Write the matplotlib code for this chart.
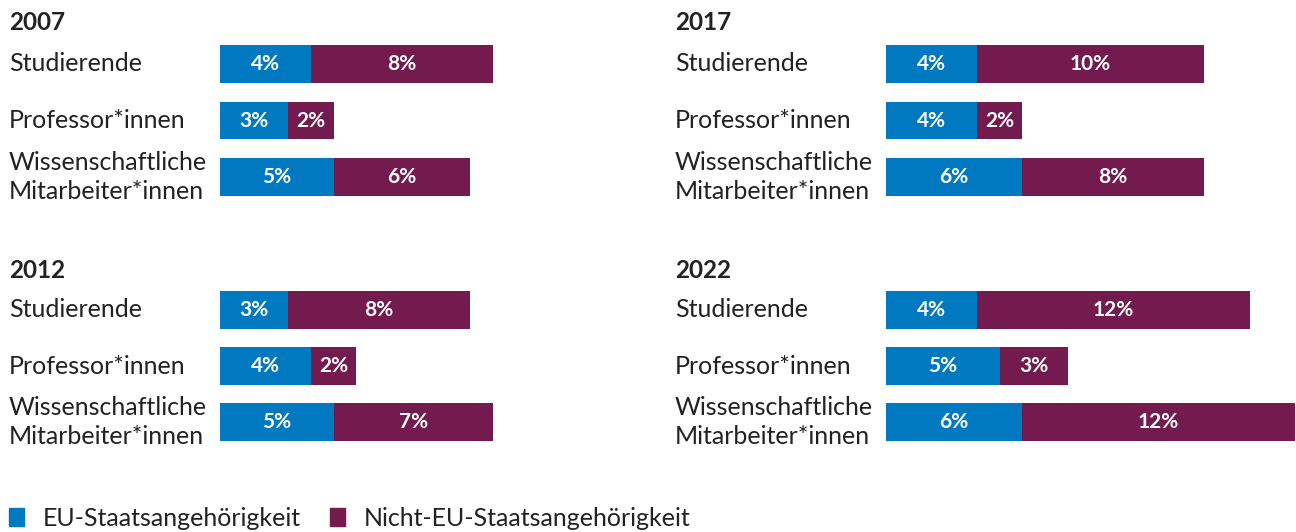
"""
Anteil ausländischer Studierender und Beschäftigter nach Staatsangehörigkeit,
2007 / 2012 / 2017 / 2022 - gestapelte Balken.
Output: out.png
"""
import matplotlib
matplotlib.use('Agg')
import matplotlib.pyplot as plt
import matplotlib.patches as mpatches
from matplotlib.transforms import blended_transform_factory

plt.rcParams['font.family'] = ['Lato', 'DejaVu Sans']

# ── Daten ──
years = ['2007', '2012', '2017', '2022']
groups = ['Studierende', 'Professor*innen', 'Wissenschaftliche\nMitarbeiter*innen']
eu = {
    '2007': [4, 3, 5],
    '2012': [3, 4, 5],
    '2017': [4, 4, 6],
    '2022': [4, 5, 6],
}
non_eu = {
    '2007': [8, 2, 6],
    '2012': [8, 2, 7],
    '2017': [10, 2, 8],
    '2022': [12, 3, 12],
}
legend_labels = ['EU-Staatsangehörigkeit', 'Nicht-EU-Staatsangehörigkeit']

BLUE = '#0079c1'
PURPLE = '#731a4e'
TEXT = '#222222'

W, H = 1296, 532
fig = plt.figure(figsize=(W / 100, H / 100), dpi=100)

PX_PER_PCT = 22.72
XMAX = 18.0
# (label x, bar start x, bar block top, bar block bottom, title y) in pixels
layout = {
    '2007': (9, 220, 45, 196, 22),
    '2012': (9, 220, 291, 441, 270),
    '2017': (675, 886, 45, 196, 22),
    '2022': (675, 886, 291, 441, 270),
}

bar_h = 0.67
ypos = [0, 1, 2]

for yr in years:
    lx, bx, top, bot, ty = layout[yr]
    ax = fig.add_axes([bx / W, 1 - bot / H, XMAX * PX_PER_PCT / W, (bot - top) / H])
    ax.barh(ypos, eu[yr], height=bar_h, color=BLUE, linewidth=0)
    ax.barh(ypos, non_eu[yr], left=eu[yr], height=bar_h, color=PURPLE, linewidth=0)
    for y, a, b in zip(ypos, eu[yr], non_eu[yr]):
        ax.text(a / 2, y, f'{a}%', ha='center', va='center', color='white',
                fontsize=15, fontweight='bold')
        ax.text(a + b / 2, y, f'{b}%', ha='center', va='center', color='white',
                fontsize=15, fontweight='bold')
    ax.set_xlim(0, XMAX)
    ax.set_ylim(2 + bar_h / 2, -bar_h / 2)
    ax.axis('off')

    trans = blended_transform_factory(fig.transFigure, ax.transData)
    for y, g in zip(ypos, groups):
        ax.text(lx / W, y, g, transform=trans, ha='left', va='center',
                fontsize=18, color=TEXT, linespacing=1.3)
    fig.text(lx / W, 1 - ty / H, yr, ha='left', va='center',
             fontsize=17.5, fontweight='bold', color=TEXT)

handles = [mpatches.Patch(color=BLUE, label=legend_labels[0]),
           mpatches.Patch(color=PURPLE, label=legend_labels[1])]
fig.legend(handles=handles, loc='center left', bbox_to_anchor=(0.007, 1 - 518 / H),
           ncol=2, frameon=False, fontsize=18, handlelength=0.58, handleheight=0.7,
           handletextpad=0.75, columnspacing=1.2, borderaxespad=0, borderpad=0,
           labelcolor=TEXT)

fig.savefig('out.png', dpi=100)
